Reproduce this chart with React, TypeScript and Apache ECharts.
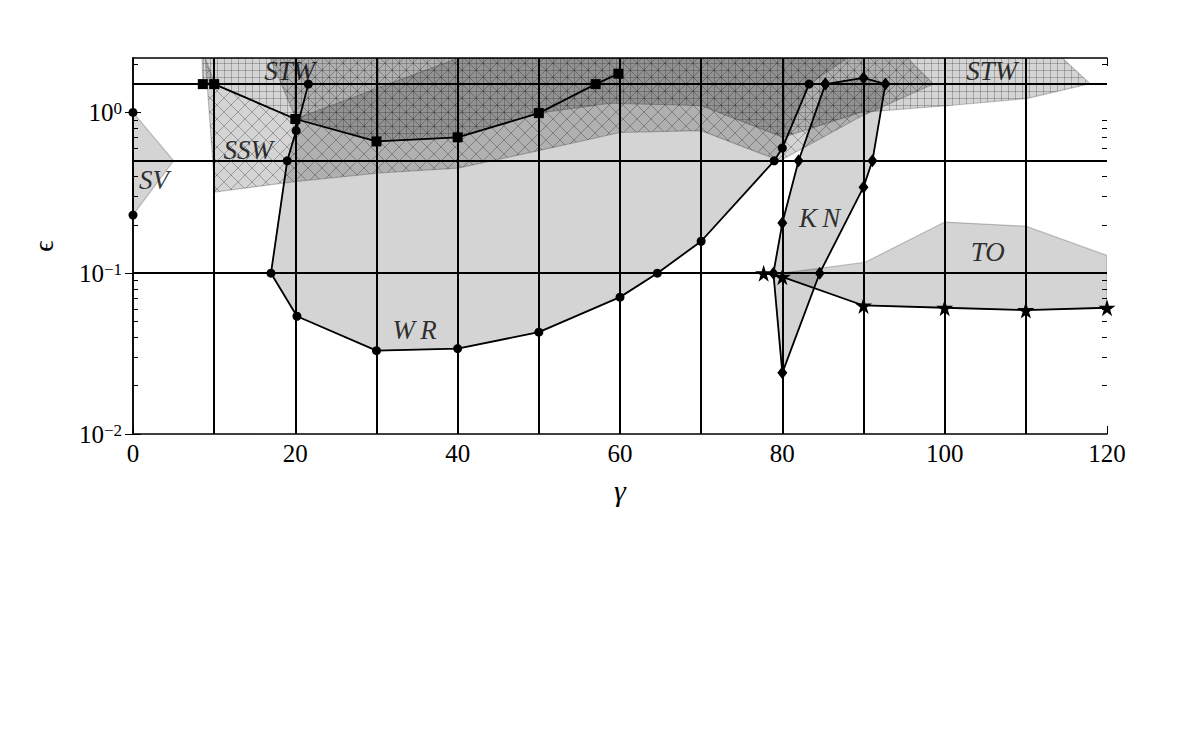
import React, { useEffect, useRef } from 'react';
import * as echarts from 'echarts';

// ---------- data ----------
const Y_MIN = 0.01;
const Y_MAX = 2.18;
const X_MIN = 0;
const X_MAX = 120;

const xTicks = [0, 20, 40, 60, 80, 100, 120];
const yMajor = [0.01, 0.1, 1];
const yMinor = [0.02, 0.03, 0.04, 0.05, 0.06, 0.07, 0.08, 0.09, 0.2, 0.3, 0.4, 0.5, 0.6, 0.7, 0.8, 0.9, 2];
const gridGammas = [10, 20, 30, 40, 50, 60, 70, 80, 90, 100, 110];
const gridEps = [0.1, 0.5, 1.5];

// boundary curves (gamma, epsilon)
const wrLine = [[21.6, 1.5], [20.1, 0.77], [19, 0.5], [17, 0.1], [20.2, 0.054], [30, 0.033], [40, 0.034], [50, 0.043], [60, 0.071], [64.6, 0.1], [70, 0.158], [79, 0.5], [80, 0.6], [83.3, 1.5]];
const svLine = [[0, 1.0], [0, 0.23]];
const stwLine = [[8.6, 1.5], [10, 1.5], [20, 0.91], [30, 0.66], [40, 0.7], [50, 0.99], [57, 1.5], [59.8, 1.74]];
const knLine = [[85.3, 1.5], [90, 1.64], [92.7, 1.5], [91.1, 0.5], [90, 0.343], [84.6, 0.1], [80, 0.024], [78.9, 0.1], [80, 0.205], [82, 0.5], [85.3, 1.5]];
const toLine = [[77.7, 0.1], [80, 0.095], [90, 0.063], [100, 0.061], [110, 0.059], [120, 0.061]];

// regions (gamma, epsilon)
const svRegion = [[0, 1.0], [5, 0.5], [0, 0.23]];
const sswRegion = [[8.9, 2.18], [10.1, 0.32], [19.7, 0.37], [30.4, 0.42], [40, 0.45], [50.1, 0.58], [60, 0.75], [70, 0.77], [79.7, 0.5], [89.6, 0.94], [98.6, 1.5], [95.4, 2.18], [16.9, 2.18], [20.1, 0.91], [10.1, 1.5]];
const stwRegion = [[8.5, 2.18], [8.6, 1.5], [10, 1.5], [20, 0.91], [30, 0.66], [40, 0.7], [50, 0.99], [58.8, 1.14], [70, 1.1], [80.1, 0.7], [89.6, 1.0], [100.3, 1.1], [110.1, 1.22], [117.9, 1.51], [114.5, 2.18]];
const wrRegion = [[20, 0.91], [20.1, 0.77], [19, 0.5], [17, 0.1], [20.2, 0.054], [30, 0.033], [40, 0.034], [50, 0.043], [60, 0.071], [64.6, 0.1], [70, 0.158], [79, 0.5], [80, 0.6], [83.3, 1.5], [88, 2.18], [40.1, 2.18]];
const knRegion = [[85.3, 1.5], [90, 1.64], [92.7, 1.5], [91.1, 0.5], [90, 0.343], [84.6, 0.1], [80, 0.024], [78.9, 0.1], [80, 0.205], [82, 0.5]];
const toRegion = [[80, 0.1], [90.2, 0.117], [100, 0.208], [110, 0.196], [120, 0.129], [120, 0.061], [110, 0.059], [100, 0.061], [90, 0.063], [80, 0.095], [77.7, 0.1]];

const regionLabels = [
  ['STW', 19.3, 1.82],
  ['STW', 105.8, 1.82],
  ['SSW', 14.2, 0.58],
  ['SV', 2.6, 0.38],
  ['W\u2009R', 34.7, 0.0444],
  ['K\u2009N', 84.6, 0.22],
  ['TO', 105.3, 0.135],
];

// ---------- styles ----------
const SERIF = 'Liberation Serif';
const svgUrl = (s: string) => 'data:image/svg+xml;charset=utf-8,' + encodeURIComponent(s);
const CROSS = 14;
const GRIDT = 7;
const crossTile = svgUrl(
  `<svg xmlns="http://www.w3.org/2000/svg" width="${CROSS}" height="${CROSS}"><rect width="${CROSS}" height="${CROSS}" fill="#000" fill-opacity="0.17"/><path d="M-1,-1L${CROSS + 1},${CROSS + 1}M${CROSS + 1},-1L-1,${CROSS + 1}" stroke="#000" stroke-opacity="0.28" stroke-width="1" fill="none"/></svg>`
);
const gridTile = svgUrl(
  `<svg xmlns="http://www.w3.org/2000/svg" width="${GRIDT}" height="${GRIDT}"><rect width="${GRIDT}" height="${GRIDT}" fill="#000" fill-opacity="0.17"/><path d="M0,0.5H${GRIDT}M0.5,0V${GRIDT}" stroke="#000" stroke-opacity="0.22" stroke-width="1" fill="none"/></svg>`
);

const plainFill = 'rgba(0,0,0,0.17)';
const edge = 'rgba(0,0,0,0.22)';

function regionSeries(name: string, pts: number[][], fill: any, z: number) {
  return {
    type: 'custom',
    name,
    data: pts,
    encode: { x: 0, y: 1 },
    silent: true,
    clip: true,
    z,
    renderItem: (params: any, api: any) => {
      if (params.dataIndex !== 0) return null;
      const points = pts.map((p) => api.coord(p));
      return {
        type: 'polygon',
        shape: { points },
        style: { fill, stroke: edge, lineWidth: 1.2 },
      };
    },
  };
}

const STAR = 'path://M50,0 L61,35 L98,35 L68,57 L79,91 L50,70 L21,91 L32,57 L2,35 L39,35 Z';

function lineSeries(name: string, pts: number[][], symbol: string, size: any) {
  return {
    type: 'line',
    name,
    data: pts,
    symbol,
    symbolSize: size,
    showSymbol: true,
    lineStyle: { color: '#000', width: 1.8 },
    itemStyle: { color: '#000' },
    z: 6,
    silent: true,
    clip: false,
  };
}

const supFmt = (v: number) => {
  const e = Math.round(Math.log10(v));
  return '{b|10}{sup|' + (e < 0 ? '\u2212' + -e : String(e)) + '}';
};

const axisLineStyle = { color: '#000', width: 1.5 };
const tickStyle = { color: '#000', width: 1 };
const yBase: any = {
  type: 'log',
  logBase: 10,
  min: Y_MIN,
  max: Y_MAX,
  splitLine: { show: false },
  axisLine: { show: true, lineStyle: axisLineStyle },
};
const xBase: any = {
  type: 'value',
  min: X_MIN,
  max: X_MAX,
  interval: 20,
  splitLine: { show: false },
  axisLine: { show: true, lineStyle: axisLineStyle },
};
const gridBox = { left: 133, top: 58, width: 974, height: 376, containLabel: false };

export default function App() {
  const ref = useRef<HTMLDivElement>(null);
  useEffect(() => {
    if (!ref.current) return;
    const chart = echarts.init(ref.current, null, { renderer: 'svg' });
    const option: any = {
      animation: false,
      backgroundColor: '#fff',
      textStyle: { fontFamily: SERIF },
      grid: [gridBox, gridBox],
      xAxis: [
        {
          ...xBase,
          gridIndex: 0,
          position: 'bottom',
          axisTick: { show: true, inside: true, length: 8, customValues: xTicks, lineStyle: tickStyle },
          axisLabel: { customValues: xTicks, color: '#000', fontSize: 25, fontFamily: SERIF, margin: 7 },
          name: '\u03b3',
          nameLocation: 'middle',
          nameGap: 41,
          nameTextStyle: { fontSize: 30, fontFamily: SERIF, fontStyle: 'italic', color: '#000' },
        },
        {
          ...xBase,
          gridIndex: 0,
          position: 'top',
          axisTick: { show: true, inside: true, length: 8, customValues: xTicks, lineStyle: tickStyle },
          axisLabel: { show: false },
        },
        {
          ...xBase,
          gridIndex: 1,
          position: 'bottom',
          show: false,
        },
      ],
      yAxis: [
        {
          ...yBase,
          gridIndex: 0,
          position: 'left',
          axisTick: { show: true, inside: true, length: 8, customValues: yMajor, lineStyle: tickStyle },
          axisLabel: {
            customValues: yMajor,
            formatter: supFmt,
            margin: 11,
            color: '#000',
            rich: {
              b: { fontSize: 25, fontFamily: SERIF, color: '#000', verticalAlign: 'bottom', lineHeight: 25 },
              sup: { fontSize: 17, fontFamily: SERIF, color: '#000', verticalAlign: 'top', lineHeight: 17 },
            },
          },
          name: '\u03f5',
          nameLocation: 'middle',
          nameGap: 76,
          nameTextStyle: { fontSize: 28, fontFamily: SERIF, color: '#000' },
        },
        {
          ...yBase,
          gridIndex: 0,
          position: 'right',
          axisTick: { show: true, inside: true, length: 8, customValues: yMajor, lineStyle: tickStyle },
          axisLabel: { show: false },
        },
        {
          ...yBase,
          gridIndex: 1,
          position: 'left',
          axisLine: { show: false },
          axisTick: { show: true, inside: true, length: 5, customValues: yMinor, lineStyle: tickStyle },
          axisLabel: { show: false },
        },
        {
          ...yBase,
          gridIndex: 1,
          position: 'right',
          axisLine: { show: false },
          axisTick: { show: true, inside: true, length: 5, customValues: yMinor, lineStyle: tickStyle },
          axisLabel: { show: false },
        },
      ],
      series: [
        regionSeries('SV region', svRegion, plainFill, 1),
        regionSeries('WR region', wrRegion, plainFill, 1),
        regionSeries('KN region', knRegion, plainFill, 1),
        regionSeries('TO region', toRegion, plainFill, 1),
        regionSeries('SSW region', sswRegion, { type: 'pattern', image: crossTile, repeat: 'repeat', imageWidth: CROSS, imageHeight: CROSS }, 2),
        regionSeries('STW region', stwRegion, { type: 'pattern', image: gridTile, repeat: 'repeat', imageWidth: GRIDT, imageHeight: GRIDT }, 2),
        {
          type: 'line',
          name: 'grid',
          data: [[X_MIN, 1]],
          showSymbol: false,
          symbol: 'none',
          lineStyle: { opacity: 0 },
          silent: true,
          z: 4,
          markLine: {
            silent: true,
            symbol: ['none', 'none'],
            label: { show: false },
            lineStyle: { color: '#000', width: 2, type: 'solid' },
            data: [
              ...gridGammas.map((g) => ({ xAxis: g })),
              ...gridEps.map((e) => ({ yAxis: e })),
            ],
          },
        },
        lineSeries('WR', wrLine, 'circle', 9),
        lineSeries('SV', svLine, 'circle', 9),
        lineSeries('STW', stwLine, 'rect', 10),
        lineSeries('KN', knLine, 'diamond', [10, 13]),
        lineSeries('TO', toLine, STAR, 17),
        {
          type: 'scatter',
          name: 'labels',
          data: regionLabels.map((r) => [r[1], r[2], r[0]]),
          symbolSize: 1,
          itemStyle: { color: 'rgba(0,0,0,0)' },
          silent: true,
          z: 8,
          label: {
            show: true,
            position: 'inside',
            formatter: (p: any) => p.data[2],
            fontFamily: SERIF,
            fontStyle: 'italic',
            fontSize: 27,
            color: '#000',
          },
        },
      ],
    };
    chart.setOption(option);
    return () => chart.dispose();
  }, []);
  return <div ref={ref} style={{ position: 'fixed', left: 0, top: 0, width: 1184, height: 748, background: '#fff' }} />;
}
